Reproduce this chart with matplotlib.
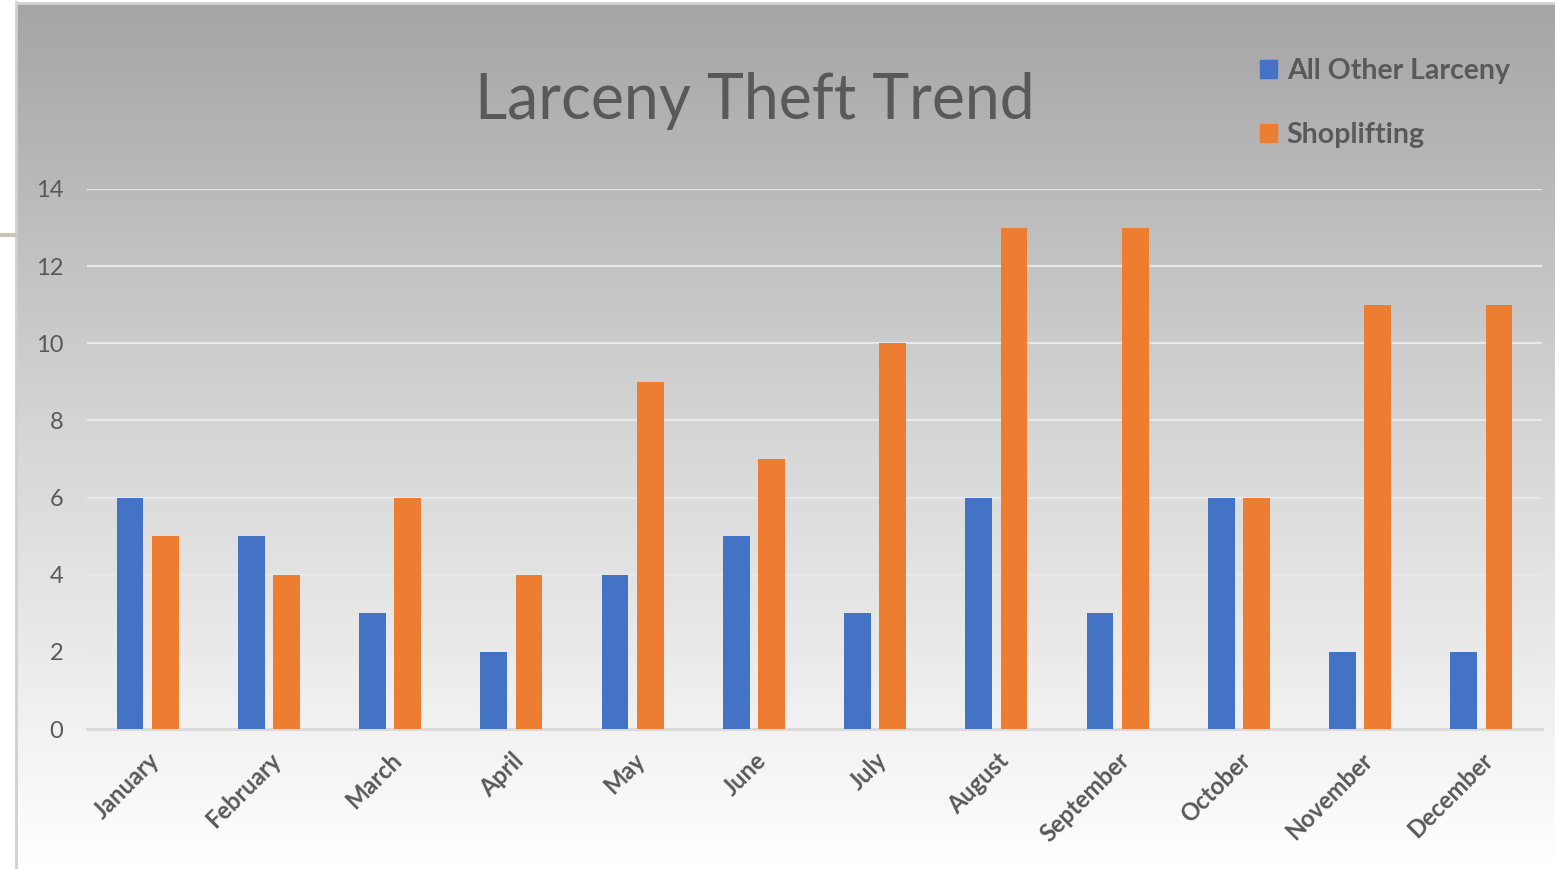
import numpy as np
import matplotlib
matplotlib.use("Agg")
from matplotlib import pyplot as plt
from matplotlib.lines import Line2D
from matplotlib.patches import Patch

months = ["January", "February", "March", "April", "May", "June",
          "July", "August", "September", "October", "November", "December"]
other_larceny = [6, 5, 3, 2, 4, 5, 3, 6, 3, 6, 2, 2]
shoplifting = [5, 4, 6, 4, 9, 7, 10, 13, 13, 6, 11, 11]

BLUE = "#4472C4"
ORANGE = "#ED7D31"
TXT = "#595959"

plt.rcParams["font.family"] = ["Lato", "DejaVu Sans"]

W, H = 1555, 869
fig = plt.figure(figsize=(W / 100, H / 100), dpi=100)
fig.patch.set_facecolor("white")

# gradient background of the chart area (gray on top, white at the bottom)
bg = fig.add_axes([16 / W, 0, 1 - 16 / W, 1 - 3 / H], zorder=0)
grad = np.linspace(0, 1, 256).reshape(-1, 1)
bg.imshow(grad, aspect="auto", cmap=matplotlib.colors.LinearSegmentedColormap.from_list(
    "g", ["#a5a5a5", "#d6d6d6", "#ffffff"]), extent=[0, 1, 0, 1])
bg.axis("off")

# thin frame lines on the left/top edge
fig.add_artist(Line2D([15.5 / W, 15.5 / W], [0, 1 - 2 / H], color="#d0d0d0", lw=2))
fig.add_artist(Line2D([15.5 / W, 1], [1 - 2.5 / H, 1 - 2.5 / H], color="#d0d0d0", lw=2))
fig.add_artist(Line2D([0, 15 / W], [1 - 235 / H, 1 - 235 / H], color="#c8c4b4", lw=3))

ax = fig.add_axes([87 / W, 1 - 729 / H, (1542 - 87) / W, (729 - 189) / H], zorder=1)
ax.patch.set_alpha(0)

x = np.arange(len(months))
bw = 0.22
ax.bar(x - 0.145, other_larceny, bw, color=BLUE, zorder=3)
ax.bar(x + 0.145, shoplifting, bw, color=ORANGE, zorder=3)

ax.set_xlim(-0.5, len(months) - 0.5)
ax.set_ylim(0, 14)
ax.set_yticks(range(0, 15, 2))
ax.yaxis.grid(True, color="#e8e8e8", lw=1.6, zorder=1)
ax.set_axisbelow(True)
for s in ["top", "right", "left"]:
    ax.spines[s].set_visible(False)
ax.spines["bottom"].set_color("#d9d9d9")
ax.spines["bottom"].set_linewidth(2)
ax.tick_params(axis="both", length=0, labelcolor=TXT)
ax.tick_params(axis="y", labelsize=17, pad=17)
ax.set_xticks(x)
ax.set_xticklabels(months, rotation=45, ha="right", rotation_mode="anchor",
                   fontsize=17, fontweight="bold")
ax.tick_params(axis="x", pad=14)

fig.text(755 / W, 1 - 101 / H, "Larceny Theft Trend", ha="center", va="center",
         fontsize=45, color=TXT)

handles = [Patch(color=BLUE, label="All Other Larceny"),
           Patch(color=ORANGE, label="Shoplifting")]
fig.legend(handles=handles, loc="upper left", bbox_to_anchor=(1234 / W, 1 - 32 / H),
           frameon=False, labelcolor=TXT, prop={"weight": "bold", "size": 20.5},
           handlelength=0.6, handleheight=0.6, handletextpad=0.35, labelspacing=1.35)

fig.savefig("out.png", dpi=100)
